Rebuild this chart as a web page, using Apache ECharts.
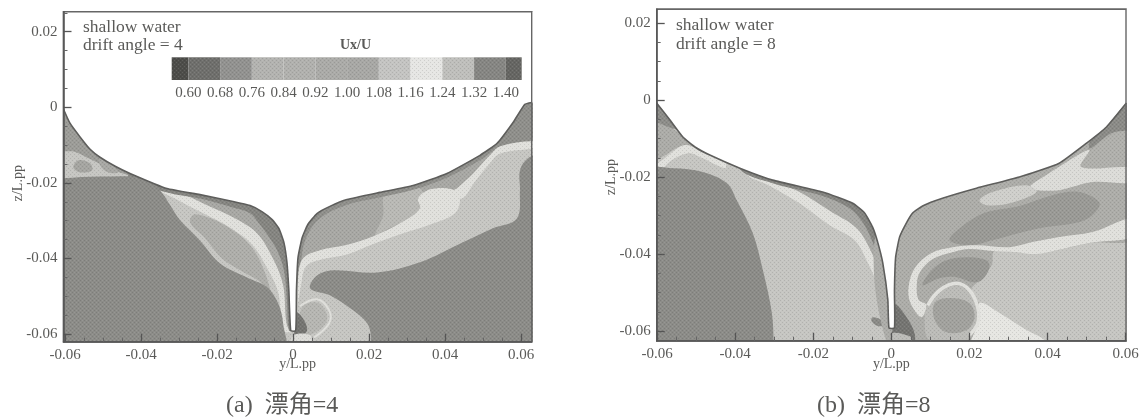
<!DOCTYPE html>
<html><head><meta charset="utf-8">
<style>html,body{margin:0;background:#fff}#c{width:1141px;height:420px}</style>
<script src="https://cdn.jsdelivr.net/npm/echarts@6/dist/echarts.min.js"></script></head>
<body><div id="c"></div>
<script>
// ---- axis values
const xTicks=[-0.06,-0.04,-0.02,0,0.02,0.04,0.06];
const yTicks=[-0.06,-0.04,-0.02,0,0.02];
const xMinor=[-0.055,-0.05,-0.045,-0.035,-0.03,-0.025,-0.015,-0.01,-0.005,0.005,0.01,0.015,0.025,0.03,0.035,0.045,0.05,0.055];
const yMinor=[-0.055,-0.05,-0.045,-0.035,-0.03,-0.025,-0.015,-0.01,-0.005,0.005,0.01,0.015,0.025];
const legendTicks=[0.60,0.68,0.76,0.84,0.92,1.00,1.08,1.16,1.24,1.32,1.40];
const legendEdges=[0.558,0.60,0.68,0.76,0.84,0.92,1.00,1.08,1.16,1.24,1.32,1.40,1.44];
const legendTones=['#4d4d4a','#6f6f6c','#929290','#b3b3b0','#b1b1ae','#ababa8','#a8a8a5','#c4c4c2','#e6e6e4','#bfbfbc','#868683','#666663'];

// ---- contour regions, panel (a): [y/L.pp, z/L.pp]
const domain=[[-0.07,-0.07],[0.07,-0.07],[0.07,0.01],[-0.07,0.01]];
const aHullProfile=[[-0.0604,-0.0005],[-0.0587,-0.0042],[-0.056,-0.0079],[-0.0534,-0.0111],[-0.0508,-0.0132],[-0.0468,-0.0156],[-0.0429,-0.0175],[-0.0332,-0.0215],[-0.0245,-0.0231],[-0.0158,-0.0249],[-0.0113,-0.026],[-0.0082,-0.0276],[-0.0055,-0.0297],[-0.0037,-0.0321],[-0.0024,-0.0358],[-0.0016,-0.0411],[-0.0011,-0.0485],[-0.0006,-0.0591],[0.0007,-0.0591],[0.0009,-0.0485],[0.0013,-0.0398],[0.0024,-0.0345],[0.0039,-0.031],[0.0063,-0.0281],[0.0097,-0.0262],[0.0142,-0.0244],[0.0229,-0.0225],[0.0316,-0.0207],[0.0405,-0.0175],[0.0492,-0.0127],[0.0537,-0.0095],[0.0579,-0.004],[0.061,0.0008],[0.0628,0.0013]];
const aWedge=[[-0.0615,-0.001],[-0.05,-0.002],[-0.04,-0.016],[-0.0429,-0.0178],[-0.0481,-0.0162],[-0.0534,-0.0137],[-0.0573,-0.0118],[-0.0615,-0.011]];
const aMottle1=[[-0.0565,-0.014],[-0.0534,-0.0148],[-0.0529,-0.0167],[-0.056,-0.0172],[-0.0578,-0.0159]];
const aMottle2=[[-0.0508,-0.0135],[-0.0476,-0.0153],[-0.046,-0.0172],[-0.0487,-0.0172],[-0.0508,-0.0153]];
const aPatch=[[-0.0258,-0.0283],[-0.0179,-0.0312],[-0.0113,-0.0365],[-0.0074,-0.0437],[-0.0055,-0.0511],[-0.0082,-0.0466],[-0.0139,-0.0431],[-0.0187,-0.04],[-0.0231,-0.0347],[-0.0271,-0.0304]];
const aStreakL=[[-0.0376,-0.0198],[-0.0302,-0.0246],[-0.0231,-0.0283],[-0.0166,-0.0318],[-0.0108,-0.0363],[-0.0068,-0.0426],[-0.0039,-0.049],[-0.0026,-0.059],[0,-0.059],[0,-0.02],[-0.0376,-0.012]];
const aBandMidL=[[-0.0363,-0.0198],[-0.0297,-0.0225],[-0.0226,-0.0259],[-0.0158,-0.0291],[-0.0095,-0.0333],[-0.0053,-0.04],[-0.0026,-0.0471],[-0.0016,-0.0577],[0,-0.059],[0,-0.02],[-0.0363,-0.01]];
const aBandDarkL=[[-0.0429,-0.0188],[-0.0331,-0.0225],[-0.0245,-0.0241],[-0.0158,-0.0265],[-0.0113,-0.028],[-0.0092,-0.0304],[-0.0066,-0.0339],[-0.0042,-0.0378],[-0.0024,-0.0431],[-0.0016,-0.0511],[-0.0011,-0.059],[0,-0.059],[0,-0.02],[-0.0429,-0.01]];
const aDarkL=[[-0.0613,-0.0188],[-0.0508,-0.0183],[-0.0389,-0.0188],[-0.035,-0.022],[-0.0323,-0.0259],[-0.0297,-0.0299],[-0.0245,-0.0352],[-0.0192,-0.0413],[-0.0121,-0.045],[-0.0068,-0.0476],[-0.0039,-0.0519],[-0.0026,-0.0572],[-0.0026,-0.066],[-0.065,-0.066],[-0.065,-0.019]];
const aUpperR=[[0.0008,-0.0511],[0.0018,-0.0452],[0.0032,-0.041],[0.0079,-0.0389],[0.015,-0.0381],[0.0211,-0.0355],[0.0282,-0.0331],[0.0353,-0.0304],[0.0413,-0.0278],[0.0434,-0.0238],[0.0474,-0.0185],[0.0511,-0.014],[0.0537,-0.0114],[0.0637,-0.0098],[0.0637,0.0045],[0.0008,-0.022]];
const aMidR=[[0.0242,-0.0228],[0.0321,-0.0209],[0.0342,-0.0225],[0.0334,-0.0267],[0.0295,-0.0299],[0.0242,-0.0325],[0.0216,-0.0339],[0.0237,-0.0286]];
const aBandDarkR=[[0.0011,-0.0511],[0.0021,-0.041],[0.0032,-0.0352],[0.0066,-0.0298],[0.0137,-0.0260],[0.0229,-0.0238],[0.0316,-0.0218],[0.0405,-0.0186],[0.0492,-0.0140],[0.0537,-0.0110],[0.0637,-0.0079],[0.0637,0.0045],[0.0008,-0.0114]];
const aStreakR=[[0.0329,-0.0241],[0.0361,-0.0217],[0.0418,-0.0217],[0.0439,-0.0241],[0.0426,-0.028],[0.0361,-0.031],[0.0282,-0.0336],[0.0208,-0.0363],[0.0142,-0.0389],[0.0076,-0.0402],[0.0034,-0.0421],[0.0021,-0.0471],[0.0013,-0.0516],[0.0013,-0.0452],[0.0026,-0.04],[0.0071,-0.0378],[0.0137,-0.0365],[0.0216,-0.0339],[0.0295,-0.0299],[0.0334,-0.0267]];
const aStreakUp=[[0.0434,-0.0212],[0.0474,-0.0175],[0.0518,-0.0127],[0.0545,-0.0103],[0.0637,-0.009],[0.0637,-0.0106],[0.0545,-0.0122],[0.0518,-0.0148],[0.0479,-0.0196],[0.0445,-0.0241],[0.0418,-0.0225]];
const aDarkR=[[0.0045,-0.0479],[0.0063,-0.0445],[0.0105,-0.0431],[0.0221,-0.0437],[0.0334,-0.041],[0.0447,-0.0357],[0.0526,-0.032],[0.0589,-0.0294],[0.0597,-0.022],[0.0597,-0.0167],[0.0618,-0.0135],[0.065,-0.0127],[0.065,-0.066],[0.021,-0.066],[0.0205,-0.0603],[0.0195,-0.0571],[0.0158,-0.0537],[0.0097,-0.0497]];
const aCore=[[0.0024,-0.0529],[0.0063,-0.0516],[0.0087,-0.0542],[0.0087,-0.0569],[0.0053,-0.0598],[0.0018,-0.0598]];
const aRing=[[0.0018,-0.0526],[0.0063,-0.0508],[0.0095,-0.0537],[0.0095,-0.0571],[0.0055,-0.0609]];
const aSlitDark=[[0.0008,-0.0542],[0.0026,-0.0558],[0.0037,-0.059],[0.0018,-0.0606],[0.0003,-0.0598]];
const aKeel=[[0,-0.0603],[0.0045,-0.0603],[0.0045,-0.063],[0,-0.063]];

// ---- contour regions, panel (b)
const bHullProfile=[[-0.0605,-0.0003],[-0.0567,-0.0052],[-0.0534,-0.0096],[-0.0503,-0.0122],[-0.0465,-0.0143],[-0.0388,-0.0177],[-0.0304,-0.0208],[-0.0176,-0.0239],[-0.0099,-0.0268],[-0.0068,-0.0294],[-0.0048,-0.033],[-0.0035,-0.0369],[-0.0022,-0.0423],[-0.0009,-0.0519],[-0.0006,-0.0592],[0.0008,-0.0592],[0.0008,-0.0494],[0.0011,-0.0408],[0.0021,-0.0356],[0.0037,-0.0322],[0.0054,-0.0294],[0.008,-0.0275],[0.0131,-0.0255],[0.0218,-0.0229],[0.0328,-0.02],[0.043,-0.0164],[0.05,-0.0112],[0.0551,-0.007],[0.0602,-0.0008]];
const bWedge=[[-0.0618,0],[-0.0516,-0.0078],[-0.0562,-0.0073],[-0.0603,-0.0057],[-0.0618,-0.0057]];
const bWedge2=[[-0.0618,-0.0057],[-0.0562,-0.0073],[-0.0503,-0.0125],[-0.0536,-0.0119],[-0.0582,-0.0145],[-0.0618,-0.0161]];
const bStreakTop=[[-0.0618,-0.0182],[-0.058,-0.0151],[-0.0529,-0.0117],[-0.049,-0.013],[-0.0426,-0.0161],[-0.0426,-0.0177],[-0.049,-0.0148],[-0.0521,-0.0138],[-0.0562,-0.0156],[-0.0592,-0.0182]];
const bStreakL=[[-0.0375,-0.0187],[-0.0311,-0.0223],[-0.0235,-0.0268],[-0.0158,-0.0325],[-0.0094,-0.0364],[-0.0061,-0.0421],[-0.0035,-0.048],[-0.0025,-0.0519],[0,-0.0519],[0,-0.02],[-0.0375,-0.01]];
const bBandMidL=[[-0.0375,-0.018],[-0.0311,-0.0208],[-0.0235,-0.0239],[-0.0153,-0.0291],[-0.0089,-0.0333],[-0.0051,-0.0395],[-0.003,-0.0454],[-0.0015,-0.0545],[-0.001,-0.0597],[0,-0.06],[0,-0.02],[-0.0375,-0.012]];
const bBandDarkL=[[-0.0388,-0.018],[-0.0304,-0.0216],[-0.0176,-0.0249],[-0.0107,-0.0281],[-0.0074,-0.0317],[-0.0048,-0.0369],[-0.003,-0.0429],[-0.0015,-0.0519],[-0.001,-0.0592],[0,-0.06],[0,-0.02],[-0.0388,-0.012]];
const bDarkL=[[-0.0618,-0.0184],[-0.0559,-0.0177],[-0.0483,-0.0187],[-0.0421,-0.0216],[-0.0396,-0.026],[-0.0355,-0.0345],[-0.0329,-0.0442],[-0.0306,-0.0553],[-0.0301,-0.0636],[-0.0299,-0.0675],[-0.0618,-0.0675]];
const bSmallBlob=[[-0.0048,-0.0564],[-0.0025,-0.0571],[-0.0017,-0.0584],[-0.0035,-0.0587],[-0.0051,-0.0574]];
const bUpperR=[[0.0622,-0.0353],[0.0507,-0.0371],[0.0423,-0.039],[0.0372,-0.0397],[0.032,-0.0395],[0.0264,-0.0392],[0.0257,-0.0429],[0.0226,-0.0468],[0.0205,-0.0494],[0.0233,-0.0545],[0.0231,-0.0597],[0.0213,-0.0636],[0.0213,-0.0675],[0.0006,-0.0675],[0.0006,-0.0234],[0.0622,0]];
const bBlobTop=[[0.0239,-0.0293],[0.0328,-0.0275],[0.0412,-0.0247],[0.0481,-0.0239],[0.0533,-0.0267],[0.0515,-0.0299],[0.0474,-0.0319],[0.0397,-0.033],[0.0328,-0.0345],[0.0259,-0.0364],[0.02,-0.0377],[0.0149,-0.0364],[0.0175,-0.0333]];
const bCornerMid=[[0.0486,-0.0174],[0.0622,-0.0177],[0.0622,-0.0065],[0.0546,-0.0104],[0.0507,-0.0135]];
const bCornerDark=[[0.0622,0.0013],[0.0622,-0.007],[0.0563,-0.0086],[0.0507,-0.0125],[0.0533,-0.0052]];
const bLightUp=[[0.0354,-0.0226],[0.0397,-0.0195],[0.0444,-0.0164],[0.0507,-0.013],[0.0486,-0.0174],[0.0622,-0.0177],[0.0622,-0.0213],[0.0515,-0.0213],[0.043,-0.0234],[0.0372,-0.0234]];
const bMidLight=[[0.0226,-0.026],[0.0259,-0.0239],[0.0345,-0.0221],[0.0372,-0.0239],[0.0303,-0.0268],[0.0244,-0.0273]];
const bMainStreak=[[0.0622,-0.0306],[0.0515,-0.0343],[0.043,-0.0356],[0.0361,-0.0369],[0.0303,-0.0382],[0.0218,-0.0377],[0.0157,-0.0382],[0.0103,-0.0397],[0.006,-0.0436],[0.0044,-0.0486],[0.0049,-0.0527],[0.0077,-0.0564],[0.009,-0.0532],[0.007,-0.0519],[0.0065,-0.0486],[0.0072,-0.0449],[0.0106,-0.0413],[0.0157,-0.0395],[0.02,-0.0387],[0.0259,-0.0392],[0.032,-0.0395],[0.0372,-0.04],[0.0423,-0.039],[0.0507,-0.0371],[0.0622,-0.0353]];
const bBlob2=[[0.008,-0.0481],[0.0103,-0.0442],[0.0141,-0.0416],[0.0193,-0.0408],[0.0244,-0.0416],[0.0251,-0.0436],[0.0231,-0.0468],[0.0208,-0.0473],[0.0167,-0.046],[0.0123,-0.0463]];
const bSpiralMid=[[0.0093,-0.0533],[0.0124,-0.0499],[0.0167,-0.0481],[0.02,-0.0499],[0.0218,-0.0545],[0.0215,-0.0584],[0.0195,-0.0623],[0.0098,-0.0623],[0.0085,-0.0571]];
const bRing=[[0.0093,-0.0533],[0.0124,-0.0494],[0.0167,-0.0476],[0.02,-0.0494],[0.0221,-0.0538],[0.0221,-0.058],[0.02,-0.061]];
const bCore=[[0.0111,-0.0527],[0.0149,-0.0514],[0.02,-0.0527],[0.0213,-0.0564],[0.0193,-0.0597],[0.0141,-0.0603],[0.0111,-0.0571]];
const bWhite=[[0.0226,-0.0527],[0.0277,-0.0553],[0.0346,-0.0597],[0.0392,-0.0623],[0.04,-0.065],[0.0205,-0.065],[0.0221,-0.058]];
const bSlitDark=[[0.0008,-0.0531],[0.0039,-0.0564],[0.006,-0.0608],[0.0054,-0.064],[0.0003,-0.064],[0.0003,-0.0592]];
const bKeel=[[0.0003,-0.0605],[0.0046,-0.0613],[0.0052,-0.0623],[0.0003,-0.0623]];

// ---- drawing order and tones
const T={base:'#c6c6c2',dark:'#8c8c88',band:'#858581',mid:'#a8a8a4',soft:'#b9b9b5',light:'#e0e0dc',core:'#a2a29e',pit:'#757572'};
const layersA=[[domain,T.base,'flat'],[aWedge,'#9c9c98'],[aMottle1,'#a5a5a1'],[aMottle2,'#a8a8a4'],[aPatch,'#aeaeaa'],[aStreakL,T.light],[aBandMidL,T.mid],[aBandDarkL,T.band],[aDarkL,T.dark],[aUpperR,T.mid],[aMidR,T.soft],[aBandDarkR,'#8f8f8b'],[aStreakR,T.light],[aStreakUp,T.light],[aDarkR,T.dark],[aCore,'#b6b6b2'],[aRing,'#dededa','line',2],[aSlitDark,T.pit],[aKeel,'#dcdcd8']];
const layersB=[[domain,T.base,'flat'],[bWedge2,'#acaca8'],[bWedge,'#8d8d89'],[bStreakTop,T.light],[bStreakL,T.light],[bBandMidL,'#a9a9a5'],[bBandDarkL,T.band],[bDarkL,T.dark],[bSmallBlob,'#8b8b87'],[bUpperR,'#adada9'],[bBlobTop,'#9a9a96'],[bCornerMid,'#b0b0ac'],[bCornerDark,'#8b8b87'],[bLightUp,'#dcdcd8'],[bMidLight,'#cfcfcb'],[bMainStreak,T.light],[bBlob2,'#989894'],[bWhite,'#e6e6e2'],[bSpiralMid,'#bcbcb8'],[bCore,T.core],[bRing,T.light,'line',3.5],[bSlitDark,T.pit],[bKeel,'#bcbcb8']];

// halftone-like screen used by the print
const screens={};
function screen(c){
  if(screens[c])return screens[c];
  const k=document.createElement('canvas');k.width=k.height=4;
  const g=k.getContext('2d');g.fillStyle=c;g.fillRect(0,0,4,4);
  g.fillStyle='rgba(0,0,0,.10)';g.fillRect(0,0,1,1);g.fillRect(2,2,1,1);
  g.fillStyle='rgba(255,255,255,.10)';g.fillRect(2,0,1,1);g.fillRect(0,2,1,1);
  return screens[c]={image:k,repeat:'repeat'};
}
const ink='#5a5a58', serif='"Liberation Serif","Noto Sans CJK SC",serif';
function contourSeries(layers,ix){
  return {type:'custom',xAxisIndex:ix,yAxisIndex:ix,clip:true,z:2,silent:true,
    data:layers.map((_,i)=>i),
    renderItem(p,api){
      const [pts,tone,kind,w]=layers[p.dataIndex];
      const points=pts.map(q=>api.coord(q));
      if(kind==='line')return{type:'polyline',shape:{points,smooth:0.4},style:{stroke:tone,fill:null,lineWidth:w}};
      return{type:'polygon',shape:{points,smooth:kind==='flat'?0:0.35},style:{fill:screen(tone)}};
    }};
}
function hullSeries(hull,ix){
  const end=hull[hull.length-1],start=hull[0];
  const top=[[end[0]+0.003,end[1]],[end[0]+0.003,0.04],[start[0]-0.003,0.04],[start[0]-0.003,start[1]]];
  return {type:'custom',xAxisIndex:ix,yAxisIndex:ix,clip:true,z:3,silent:true,data:[0,1],
    renderItem(p,api){
      if(p.dataIndex===0)return{type:'polygon',shape:{points:hull.concat(top).map(q=>api.coord(q)),smooth:0.15},style:{fill:'#fff'}};
      return{type:'polyline',shape:{points:hull.map(q=>api.coord(q)),smooth:0.15},style:{stroke:'#5e5e5c',fill:null,lineWidth:1.6}};
    }};
}
function frameSeries(ix){
  return {type:'custom',xAxisIndex:ix,yAxisIndex:ix,clip:false,z:4,silent:true,data:[0],
    renderItem(p){
      const c=p.coordSys;
      return{type:'rect',shape:{x:c.x,y:c.y,width:c.width,height:c.height},style:{fill:null,stroke:'#666',lineWidth:1.4}};
    }};
}
function tf(v){return v===0?'0':v.toFixed(2);}
function axes(kind,grid,min,max,ticks,minor,name,pos,gap,pad){
  const base={type:'value',gridIndex:grid,min,max,position:pos,splitLine:{show:false},z:10};
  return [
   Object.assign({},base,{name,nameLocation:'middle',nameGap:gap,nameMoveOverlap:false,nameRotate:kind==='y'?90:0,
     nameTextStyle:{fontFamily:serif,fontSize:14,color:ink,padding:pad},
     axisLine:{show:true,onZero:false,lineStyle:{color:'#555',width:1.5}},
     axisTick:{show:true,inside:true,length:8,customValues:ticks,lineStyle:{color:'#555',width:1.3}},
     axisLabel:{show:true,customValues:ticks,formatter:tf,margin:6,fontFamily:serif,fontSize:15,color:ink}}),
   Object.assign({},base,{axisLine:{show:false,onZero:false},
     axisTick:{show:true,inside:true,length:4,customValues:minor,lineStyle:{color:'#666',width:1}},
     axisLabel:{show:false}})
  ];
}
const gridA={left:63.5,top:11.7,width:468.2,height:330,show:true,borderColor:'#666',borderWidth:1.4,backgroundColor:'#fff',outerBoundsMode:'none'};
const gridB={left:656.7,top:9.3,width:469.3,height:331.4,show:true,borderColor:'#666',borderWidth:1.4,backgroundColor:'#fff',outerBoundsMode:'none'};
const gridL={left:171.7,top:57.3,width:350,height:22.7,show:false,outerBoundsMode:'none'};
const xs=[...axes('x',0,-0.0604,0.0628,xTicks,xMinor,'y/L.pp','bottom',16),...axes('x',1,-0.0601,0.0601,xTicks,xMinor,'y/L.pp','bottom',17),
  {type:'value',gridIndex:2,min:0.558,max:1.44,position:'bottom',z:10,splitLine:{show:false},axisLine:{show:false,onZero:false},axisTick:{show:false},
   axisLabel:{customValues:legendTicks,formatter:v=>v.toFixed(2),margin:6,fontFamily:serif,fontSize:15,color:ink}}];
const ys=[...axes('y',0,-0.062,0.0253,yTicks,yMinor,'z/L.pp','left',38,[0,13,0,0]),...axes('y',1,-0.0625,0.02356,yTicks,yMinor,'z/L.pp','left',38,[0,4,0,0]),
  {type:'value',gridIndex:2,min:0,max:1,show:false}];
const legendSeries={type:'custom',xAxisIndex:4,yAxisIndex:4,z:6,silent:true,data:legendTones.map((_,i)=>i),
  renderItem(p,api){
    const i=p.dataIndex,a=api.coord([legendEdges[i],1]),b=api.coord([legendEdges[i+1],0]);
    return{type:'rect',shape:{x:a[0],y:a[1],width:b[0]-a[0],height:b[1]-a[1]},style:{fill:screen(legendTones[i])}};
  }};
function note(text,x,y,size,weight){return {type:'text',left:x,top:y,z:20,silent:true,style:{text,font:`${weight||''} ${size}px ${serif}`,fill:ink}};}
const chart=echarts.init(document.getElementById('c'),null,{renderer:'canvas'});
chart.setOption({animation:false,backgroundColor:'#fff',
  grid:[gridA,gridB,gridL],xAxis:xs,yAxis:ys,
  series:[
    contourSeries(layersA,0),hullSeries(aHullProfile,0),frameSeries(0),
    contourSeries(layersB,2),hullSeries(bHullProfile,2),frameSeries(2),
    legendSeries],
  graphic:{elements:[
    note('shallow water',83,19,17.5),note('drift angle = 4',83,37,17.5),
    note('shallow water',676,17,17.5),note('drift angle = 8',676,36,17.5),
    note('Ux/U',340,38,14,'bold'),
    note('(a)  漂角=4',226,394,24),note('(b)  漂角=8',817,394,24)
  ]}
});
</script></body></html>
